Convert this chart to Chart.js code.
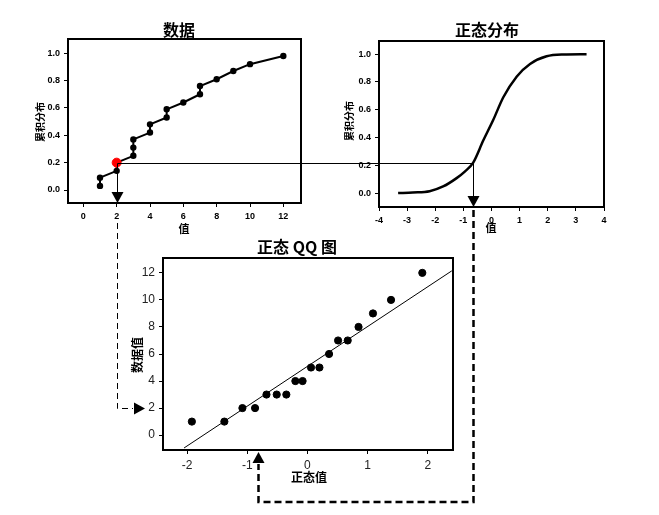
<!DOCTYPE html>
<html>
<head>
<meta charset="utf-8">
<script src="https://cdn.jsdelivr.net/npm/chart.js@4.4.1/dist/chart.umd.min.js"></script>
<style>
  html, body { margin: 0; padding: 0; background: #fff; }
  #wrap { position: relative; width: 659px; height: 515px; overflow: hidden; }
  canvas { position: absolute; }
</style>
</head>
<body>
<div id="wrap">
  <canvas id="cData"></canvas>
  <canvas id="cNormal"></canvas>
  <canvas id="cQQ"></canvas>
  <canvas id="overlay" width="659" height="515" style="left:0;top:0;pointer-events:none"></canvas>
</div>
<script>
// 观测数据（升序）和经验累积分布
const dataValues = [1, 1, 2, 2, 3, 3, 3, 4, 4, 5, 5, 6, 7, 7, 8, 9, 10, 12];
const ecdfValues = [0.03, 0.09, 0.14, 0.20, 0.25, 0.31, 0.37, 0.42, 0.48, 0.53, 0.59, 0.64, 0.70, 0.76, 0.81, 0.87, 0.92, 0.98];
const markedValue = 2;
const markedCdf = 0.2;

// 正态分布累积曲线
const normalX = [-3.32, -2.8, -2.2, -1.72, -1.24, -0.95, -0.65, -0.29, 0.06, 0.42, 0.9, 1.37, 1.96, 2.55, 3.38];
const normalCdf = [0.0, 0.005, 0.014, 0.048, 0.108, 0.155, 0.22, 0.38, 0.526, 0.69, 0.84, 0.93, 0.985, 0.998, 1.0];
const normalQuantile = -0.65;

// 正态 QQ 图
const qqTheoretical = [-1.92, -1.38, -1.08, -0.87, -0.68, -0.51, -0.35, -0.20, -0.08, 0.06, 0.20, 0.36, 0.51, 0.67, 0.85, 1.09, 1.39, 1.91];
const qqLineX = [-2.05, 2.40];
const qqLineY = [-0.95, 12.15];
const qqArrowX = -0.82;
const qqArrowY = 2;

// 刻度
const dataXTicks = [0, 2, 4, 6, 8, 10, 12];
const cdfTicks = [0, 0.2, 0.4, 0.6, 0.8, 1.0];
const normalXTicks = [-4, -3, -2, -1, 0, 1, 2, 3, 4];
const qqXTicks = [-2, -1, 0, 1, 2];
const qqYTicks = [0, 2, 4, 6, 8, 10, 12];

const CJK = '"Noto Sans CJK SC"';
const smallTick = { family: 'Liberation Sans', size: 9, weight: 'bold' };
const qqTick = { family: 'Liberation Sans', size: 12 };

// 画布位置和绘图区（页面坐标）
const box1 = { x: 0, y: 0, w: 320, h: 245 }, area1 = { l: 68, t: 39, r: 301, b: 203 };
const box2 = { x: 320, y: 0, w: 339, h: 245 }, area2 = { l: 379, t: 41, r: 604, b: 207 };
const box3 = { x: 0, y: 232, w: 659, h: 283 }, area3 = { l: 163, t: 258, r: 453, b: 450 };

function place(canvas, box) {
  canvas.width = box.w;
  canvas.height = box.h;
  canvas.style.left = box.x + 'px';
  canvas.style.top = box.y + 'px';
}

function axis(min, max, ticks, fmt, font, color, fit) {
  return {
    type: 'linear', min, max,
    afterBuildTicks: s => { s.ticks = ticks.map(v => ({ value: v })); },
    afterFit: fit,
    grid: { display: true, drawOnChartArea: false, drawTicks: true, tickLength: 4, color: '#000', lineWidth: 1 },
    border: { display: false },
    ticks: { callback: fmt, font, color, padding: 4, maxRotation: 0, autoSkip: false },
  };
}

// 边框 + 标题 / 轴标题
function framePlugin(box, texts) {
  return {
    id: 'frame',
    afterDraw(chart) {
      const { ctx, chartArea: a } = chart;
      ctx.save();
      ctx.strokeStyle = '#000';
      ctx.lineWidth = 2;
      ctx.strokeRect(a.left, a.top, a.right - a.left, a.bottom - a.top);
      ctx.fillStyle = '#000';
      ctx.textAlign = 'center';
      ctx.textBaseline = 'middle';
      texts.forEach(t => {
        ctx.save();
        ctx.font = t.font;
        ctx.translate(t.x - box.x, t.y - box.y);
        if (t.rot) ctx.rotate(-Math.PI / 2);
        ctx.fillText(t.text, 0, 0);
        ctx.restore();
      });
      ctx.restore();
    },
  };
}

function makeChart(id, box, area, min, max, xt, yt, fmtX, fmtY, font, color, datasets, texts) {
  const canvas = document.getElementById(id);
  place(canvas, box);
  return new Chart(canvas, {
    type: 'scatter',
    data: { datasets },
    options: {
      responsive: false,
      animation: false,
      events: [],
      layout: { padding: { left: 0, top: area.t - box.y, right: box.x + box.w - area.r, bottom: 0 } },
      plugins: { legend: { display: false }, tooltip: { enabled: false } },
      scales: {
        x: axis(min.x, max.x, xt, fmtX, font, color, s => { s.height = box.y + box.h - area.b; }),
        y: axis(min.y, max.y, yt, fmtY, font, color, s => { s.width = area.l - box.x; }),
      },
    },
    plugins: [framePlugin(box, texts)],
  });
}

const oneDec = v => Number(v).toFixed(1);
const plain = v => String(v);

const chData = makeChart('cData', box1, area1, { x: -0.92, y: -0.095 }, { x: 13.06, y: 1.104 },
  dataXTicks, cdfTicks, plain, oneDec, smallTick, '#000', [
    { data: [{ x: markedValue, y: markedCdf }], pointRadius: 4.5, backgroundColor: '#ff0000', borderColor: '#ff0000' },
    {
      data: dataValues.map((v, i) => ({ x: v, y: ecdfValues[i] })),
      showLine: true, borderColor: '#000', borderWidth: 2,
      pointRadius: 2.2, backgroundColor: '#000', pointBorderColor: '#000',
    },
  ], [
    { text: '数据', x: 179, y: 30, font: `bold 16px ${CJK}` },
    { text: '值', x: 184, y: 229, font: `bold 11px ${CJK}` },
    { text: '累积分布', x: 40, y: 122, rot: true, font: `bold 10px ${CJK}` },
  ]);

const chNormal = makeChart('cNormal', box2, area2, { x: -4, y: -0.1 }, { x: 4, y: 1.095 },
  normalXTicks, cdfTicks, plain, oneDec, smallTick, '#000', [
    {
      data: normalX.map((v, i) => ({ x: v, y: normalCdf[i] })),
      showLine: true, borderColor: '#000', borderWidth: 2.5,
      cubicInterpolationMode: 'monotone', pointRadius: 0,
    },
  ], [
    { text: '正态分布', x: 487, y: 30, font: `bold 16px ${CJK}` },
    { text: '值', x: 491, y: 228, font: `bold 11px ${CJK}` },
    { text: '累积分布', x: 349, y: 121, rot: true, font: `bold 10px ${CJK}` },
  ]);

const chQQ = makeChart('cQQ', box3, area3, { x: -2.4, y: -1.1 }, { x: 2.42, y: 13.1 },
  qqXTicks, qqYTicks, plain, plain, qqTick, '#222', [
    {
      data: qqTheoretical.map((v, i) => ({ x: v, y: dataValues[i] })),
      pointRadius: 3.6, backgroundColor: '#000', borderColor: '#000',
    },
    {
      data: qqLineX.map((v, i) => ({ x: v, y: qqLineY[i] })),
      showLine: true, borderColor: '#000', borderWidth: 1, pointRadius: 0,
    },
  ], [
    { text: '正态 QQ 图', x: 297, y: 247, font: `bold 16px ${CJK}` },
    { text: '正态值', x: 309, y: 477, font: `bold 12px ${CJK}` },
    { text: '数据值', x: 137, y: 355, rot: true, font: `bold 12px ${CJK}` },
  ]);

// 连接三个图的箭头
function toPage(chart, box, xv, yv) {
  return {
    x: box.x + chart.scales.x.getPixelForValue(xv),
    y: box.y + chart.scales.y.getPixelForValue(yv),
  };
}

const ctx = document.getElementById('overlay').getContext('2d');
const px = v => Math.round(v) + 0.5;

function path(points) {
  ctx.beginPath();
  points.forEach(([x, y], i) => (i ? ctx.lineTo(x, y) : ctx.moveTo(x, y)));
  ctx.stroke();
}

function tri(x, y, dir) {
  const len = 11, half = 6;
  ctx.beginPath();
  if (dir === 'down') { ctx.moveTo(x, y); ctx.lineTo(x - half, y - len); ctx.lineTo(x + half, y - len); }
  if (dir === 'up') { ctx.moveTo(x, y); ctx.lineTo(x - half, y + len); ctx.lineTo(x + half, y + len); }
  if (dir === 'right') { ctx.moveTo(x, y); ctx.lineTo(x - len, y - half); ctx.lineTo(x - len, y + half); }
  ctx.closePath();
  ctx.fill();
}

const p1 = toPage(chData, box1, markedValue, markedCdf);
const x2 = px(box2.x + chNormal.scales.x.getPixelForValue(normalQuantile));
const bottom1 = box1.y + chData.chartArea.bottom;
const bottom2 = box2.y + chNormal.chartArea.bottom;
const bottom3 = box3.y + chQQ.chartArea.bottom;
const left3 = box3.x + chQQ.chartArea.left;
const y3 = px(box3.y + chQQ.scales.y.getPixelForValue(qqArrowY));
const x3 = px(box3.x + chQQ.scales.x.getPixelForValue(qqArrowX));
const x1 = px(p1.x), yLevel = px(p1.y);
const routeY = 502;

ctx.strokeStyle = '#000';
ctx.fillStyle = '#000';
ctx.lineWidth = 1;
path([[x1, yLevel], [x2, yLevel]]);
path([[x2, yLevel], [x2, bottom2 - 10]]);
tri(x2, bottom2, 'down');
path([[x1, yLevel], [x1, bottom1 - 10]]);
tri(x1, bottom1, 'down');

ctx.setLineDash([6, 4]);
path([[x1, bottom1 + 20], [x1, y3], [left3 - 30, y3]]);
tri(left3 - 18, y3, 'right');

ctx.lineWidth = 2.5;
ctx.setLineDash([7, 4]);
path([[x2, bottom2 + 3], [x2, routeY], [x3, routeY], [x3, bottom3 + 14]]);
ctx.setLineDash([]);
tri(x3, bottom3 + 2, 'up');
</script>
</body>
</html>
